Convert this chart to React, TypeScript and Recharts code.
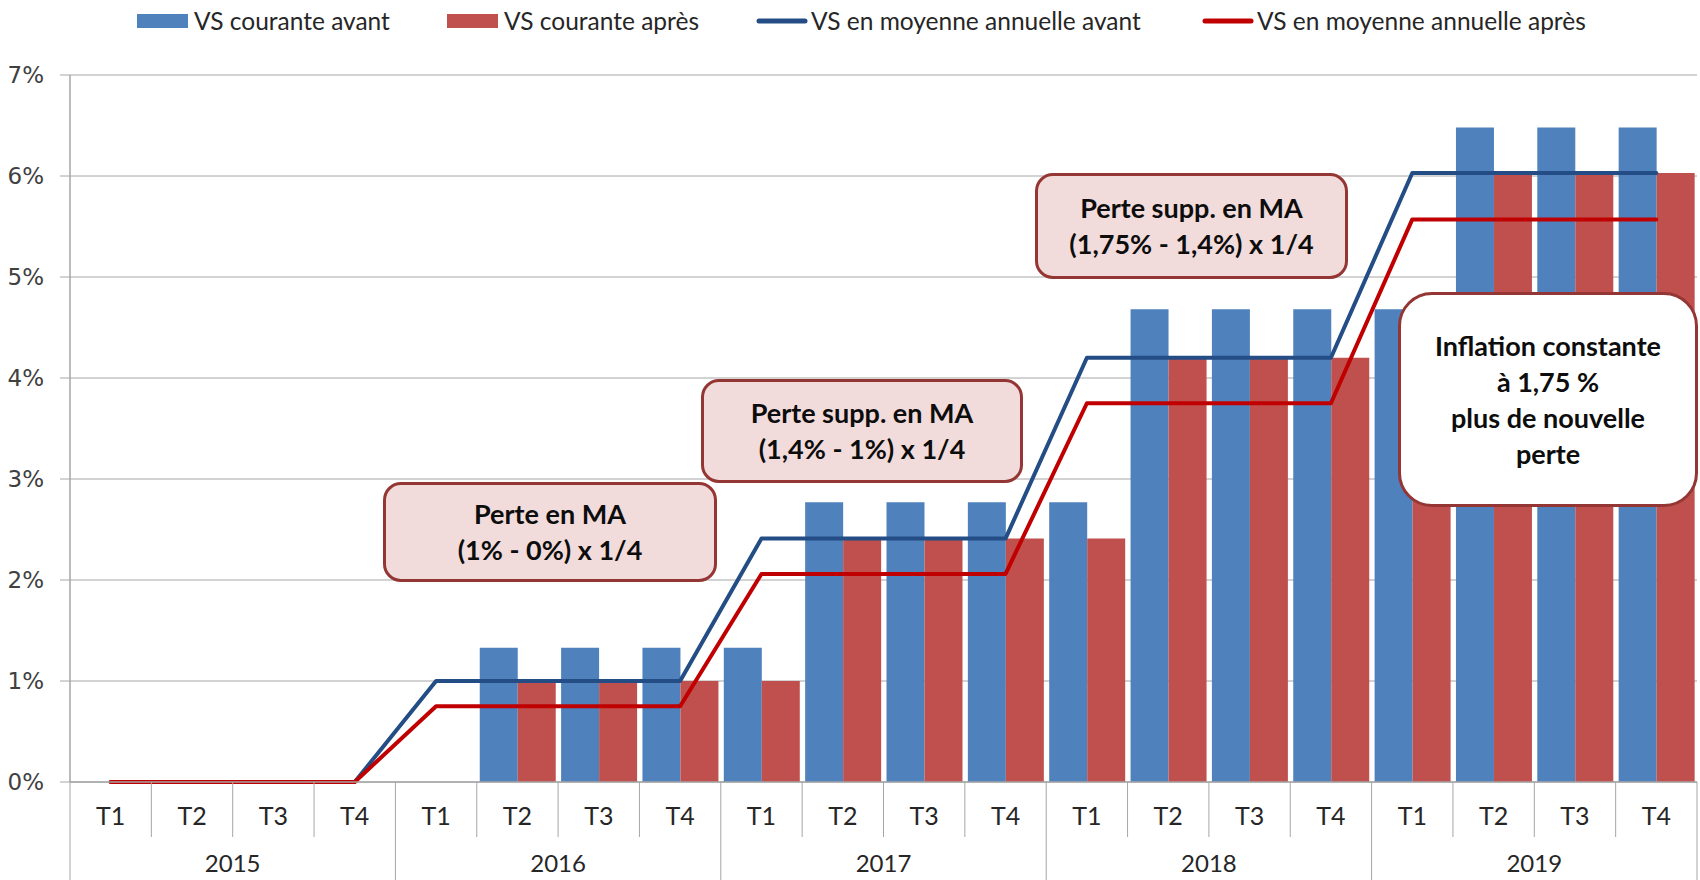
import React from 'react';
import { ComposedChart, Bar, Line, XAxis, YAxis, CartesianGrid, Legend } from 'recharts';

// ---------- data ----------
const quarters = ['T1', 'T2', 'T3', 'T4', 'T1', 'T2', 'T3', 'T4', 'T1', 'T2', 'T3', 'T4', 'T1', 'T2', 'T3', 'T4', 'T1', 'T2', 'T3', 'T4'];
const years = ['2015', '2016', '2017', '2018', '2019'];
const vsCouranteAvant = [0, 0, 0, 0, 0, 1.33, 1.33, 1.33, 1.33, 2.77, 2.77, 2.77, 2.77, 4.68, 4.68, 4.68, 4.68, 6.48, 6.48, 6.48];
const vsCouranteApres = [0, 0, 0, 0, 0, 1.0, 1.0, 1.0, 1.0, 2.41, 2.41, 2.41, 2.41, 4.2, 4.2, 4.2, 4.2, 6.03, 6.03, 6.03];
const vsMoyenneAvant = [0, 0, 0, 0, 1.0, 1.0, 1.0, 1.0, 2.41, 2.41, 2.41, 2.41, 4.2, 4.2, 4.2, 4.2, 6.03, 6.03, 6.03, 6.03];
const vsMoyenneApres = [0, 0, 0, 0, 0.75, 0.75, 0.75, 0.75, 2.06, 2.06, 2.06, 2.06, 3.75, 3.75, 3.75, 3.75, 5.57, 5.57, 5.57, 5.57];
const yTicks = [0, 1, 2, 3, 4, 5, 6, 7];
const seriesNames = ['VS courante avant', 'VS courante après', 'VS en moyenne annuelle avant', 'VS en moyenne annuelle après'];

const data = quarters.map((q, i) => ({
  q,
  year: years[Math.floor(i / 4)],
  ca: vsCouranteAvant[i],
  cp: vsCouranteApres[i],
  ma: vsMoyenneAvant[i],
  mp: vsMoyenneApres[i],
}));

// ---------- layout / style ----------
const W = 1700;
const H = 880;
const Y_AXIS_W = 70;
const MARGIN_RIGHT = 3;
const X_AXIS_H = 98;
const BAND = (W - Y_AXIS_W - MARGIN_RIGHT) / quarters.length;
const GRAY = '#A6A6A6';
const BLUE_BAR = '#4F81BD';
const RED_BAR = '#C0504D';
const BLUE_LINE = '#234D84';
const RED_LINE = '#C00000';
const CALIBRI = 'Lato, "Noto Sans", sans-serif';
const LEGEND_X = [137, 447, 756, 1202];

const QuarterTick = (props: any) => {
  const { x, y, payload } = props;
  const i: number = payload?.index ?? props.index ?? 0;
  const half = BAND / 2;
  const yearStart = i % 4 === 0;
  return (
    <g>
      <line x1={x - half} x2={x - half} y1={y} y2={yearStart ? H : y + 55} stroke={GRAY} strokeWidth={1} />
      {i === quarters.length - 1 && (
        <line x1={x + half} x2={x + half} y1={y} y2={H} stroke={GRAY} strokeWidth={1} />
      )}
      <text x={x} y={y + 33} textAnchor="middle" dominantBaseline="central" fontFamily={CALIBRI} fontSize={25} fill="#262626">
        {payload.value}
      </text>
      {yearStart && (
        <text x={x + 1.5 * BAND} y={y + 80} textAnchor="middle" dominantBaseline="central" fontFamily={CALIBRI} fontSize={24} fill="#262626">
          {years[i / 4]}
        </text>
      )}
    </g>
  );
};

const LegendContent = (props: any) => {
  const payload: any[] = [...(props.payload || [])].sort(
    (a, b) => seriesNames.indexOf(a.value) - seriesNames.indexOf(b.value)
  );
  return (
    <div style={{ position: 'relative', width: W, height: 40 }}>
      {payload.map((entry, idx) => (
        <div
          key={idx}
          style={{
            position: 'absolute',
            left: LEGEND_X[idx],
            top: 0,
            height: 42,
            display: 'flex',
            alignItems: 'center',
            whiteSpace: 'nowrap',
          }}
        >
          {entry.type === 'line' ? (
            <svg width={52} height={14} style={{ marginRight: 3 }}>
              <line x1={3} x2={49} y1={7} y2={7} stroke={entry.color} strokeWidth={5} strokeLinecap="round" />
            </svg>
          ) : (
            <div style={{ width: 51, height: 14, background: entry.color, marginRight: 6 }} />
          )}
          <span style={{ fontFamily: CALIBRI, fontSize: 24.5, color: '#262626', lineHeight: '30px' }}>{entry.value}</span>
        </div>
      ))}
    </div>
  );
};

type BoxProps = { left: number; top: number; width: number; height: number; lines: string[]; fill: string; radius: number };

const NoteBox = ({ left, top, width, height, lines, fill, radius }: BoxProps) => (
  <div
    style={{
      position: 'absolute',
      left,
      top,
      width,
      height,
      boxSizing: 'border-box',
      border: '3.5px solid #943634',
      borderRadius: radius,
      background: fill,
      display: 'flex',
      flexDirection: 'column',
      alignItems: 'center',
      justifyContent: 'center',
      fontFamily: CALIBRI,
      fontWeight: 700,
      fontSize: 27,
      lineHeight: '36px',
      color: '#0D0D0D',
      textAlign: 'center',
      whiteSpace: 'nowrap',
    }}
  >
    {lines.map((l, i) => (
      <div key={i}>{l}</div>
    ))}
  </div>
);

export default function App() {
  return (
    <div style={{ position: 'absolute', left: 0, top: 0, width: W, height: H, background: '#fff' }}>
      <ComposedChart
        width={W}
        height={H}
        data={data}
        margin={{ top: 35, right: MARGIN_RIGHT, bottom: 0, left: 0 }}
        barCategoryGap={3}
        barGap={0}
      >
        <CartesianGrid vertical={false} stroke={GRAY} strokeWidth={1} />
        <XAxis
          dataKey="q"
          interval={0}
          height={X_AXIS_H}
          tickSize={0}
          tickMargin={0}
          tickLine={false}
          axisLine={{ stroke: GRAY, strokeWidth: 1.5 }}
          tick={<QuarterTick />}
        />
        <YAxis
          width={Y_AXIS_W}
          domain={[0, 7]}
          ticks={yTicks}
          interval={0}
          tickFormatter={(v: number) => `${v}%`}
          tickSize={10}
          tickMargin={16}
          tickLine={{ stroke: GRAY }}
          axisLine={{ stroke: GRAY, strokeWidth: 1.5 }}
          tick={{ fontFamily: '"DejaVu Sans", Verdana, sans-serif', fontSize: 23, fill: '#404040' }}
        />
        <Legend
          verticalAlign="top"
          align="left"
          content={<LegendContent />}
          wrapperStyle={{ top: 0, left: 0, width: W, height: 40 }}
        />
        <Bar dataKey="ca" name={seriesNames[0]} fill={BLUE_BAR} isAnimationActive={false} legendType="rect" />
        <Bar dataKey="cp" name={seriesNames[1]} fill={RED_BAR} isAnimationActive={false} legendType="rect" />
        <Line
          dataKey="ma"
          name={seriesNames[2]}
          type="linear"
          stroke={BLUE_LINE}
          strokeWidth={4}
          dot={false}
          strokeLinecap="round"
          strokeLinejoin="round"
          isAnimationActive={false}
          legendType="line"
        />
        <Line
          dataKey="mp"
          name={seriesNames[3]}
          type="linear"
          stroke={RED_LINE}
          strokeWidth={4}
          dot={false}
          strokeLinecap="round"
          strokeLinejoin="round"
          isAnimationActive={false}
          legendType="line"
        />
      </ComposedChart>

      <NoteBox left={383} top={482} width={334} height={100} radius={18} fill="#F2DCDB" lines={['Perte en MA', '(1% - 0%) x 1/4']} />
      <NoteBox left={701} top={379} width={322} height={104} radius={18} fill="#F2DCDB" lines={['Perte supp. en MA', '(1,4% - 1%) x 1/4']} />
      <NoteBox left={1035} top={173} width={313} height={106} radius={18} fill="#F2DCDB" lines={['Perte supp. en MA', '(1,75% - 1,4%) x 1/4']} />
      <NoteBox
        left={1398}
        top={292}
        width={300}
        height={215}
        radius={34}
        fill="#FFFFFF"
        lines={['Inflation constante', 'à 1,75 %', 'plus de nouvelle', 'perte']}
      />
    </div>
  );
}
